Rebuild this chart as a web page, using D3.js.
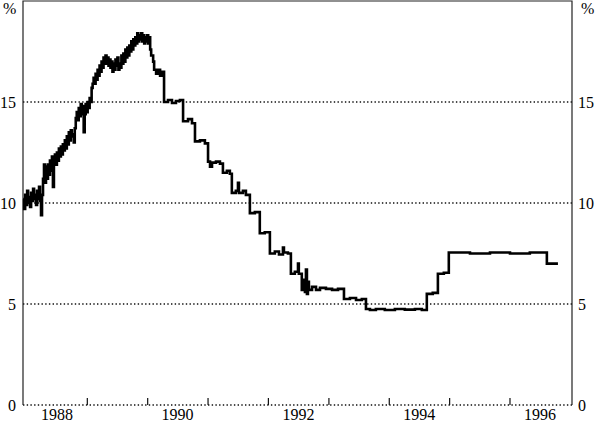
<!DOCTYPE html>
<html>
<head>
<meta charset="utf-8">
<script src="https://cdn.jsdelivr.net/npm/d3@7"></script>
<style>
  body { margin: 0; background: #fff; }
</style>
</head>
<body>
<svg id="chart"></svg>
<script>
const noisyStart = '1987-12-10';
const noisyStepDays = 6;
const noisyRates = [
    10.2, 9.7, 10.4, 9.9, 10.6, 10.0, 10.3, 9.8, 10.5, 10.1,
    10.7, 10.2, 10.4, 9.9, 10.6, 10.2, 10.8, 10.1, 9.4, 10.4,
    11.2, 11.9, 11.0, 11.8, 11.2, 11.9, 11.4, 12.1, 11.6, 12.3,
    10.8, 12.0, 12.4, 11.9, 12.5, 12.1, 12.7, 12.3, 12.8, 12.4,
    12.9, 12.6, 13.1, 12.7, 13.3, 12.9, 13.5, 13.1, 13.6, 13.3,
    13.4, 13.0, 13.7, 14.2, 14.5, 14.1, 14.7, 14.3, 14.9, 14.4,
    14.8, 13.5, 14.4, 14.9, 14.5, 15.0, 14.7, 15.2, 15.0, 15.7,
    15.9, 16.2, 15.9, 16.4, 16.1, 16.6, 16.3, 16.8, 16.5, 17.0,
    16.7, 17.2, 16.9, 17.3, 16.9, 17.2, 16.8, 17.1, 16.7, 17.0,
    16.5, 16.9, 16.6, 17.1, 16.8, 17.2, 16.6, 16.9, 16.7, 17.3,
    16.9, 17.4, 17.0, 17.6, 17.2, 17.7, 17.3, 17.8, 17.5, 18.0,
    17.6, 18.1, 17.8, 18.2, 17.9, 18.4, 18.0, 18.3, 18.1, 18.4,
    18.0, 18.3, 17.9, 18.2, 18.0, 18.3, 17.9, 18.2, 17.6, 17.3
];

// step period from 1990 on
const stepDates = [
    '1990-02-03', '1990-02-09', '1990-02-21', '1990-03-05', '1990-03-17', '1990-03-29',
    '1990-04-10', '1990-05-04', '1990-05-28', '1990-06-21', '1990-07-15',
    '1990-08-03', '1990-09-02', '1990-09-26',
    '1990-10-14', '1990-11-13', '1990-12-13',
    '1991-01-01', '1991-01-13', '1991-01-25', '1991-02-18', '1991-03-14',
    '1991-04-01', '1991-04-25', '1991-05-13',
    '1991-05-25', '1991-06-18', '1991-07-01', '1991-07-07', '1991-07-31', '1991-08-18',
    '1991-09-11', '1991-10-11',
    '1991-11-10', '1991-12-10',
    '1992-01-10', '1992-02-09', '1992-03-05', '1992-03-29', '1992-04-04', '1992-04-28',
    '1992-05-16', '1992-06-09', '1992-06-28', '1992-07-03',
    '1992-07-21', '1992-08-03', '1992-08-09', '1992-08-15', '1992-08-21', '1992-08-27',
    '1992-09-02', '1992-09-21', '1992-10-15', '1992-11-08', '1992-12-14', '1993-01-20', '1993-02-25',
    '1993-04-02', '1993-05-08', '1993-06-14', '1993-07-19',
    '1993-08-13', '1993-09-06', '1993-10-12', '1993-12-05', '1994-02-04', '1994-04-05',
    '1994-06-05', '1994-07-17',
    '1994-08-16', '1994-09-21',
    '1994-10-22', '1994-11-27',
    '1994-12-27', '1995-05-04', '1995-09-02', '1996-01-01', '1996-04-30',
    '1996-08-11', '1996-10-17'
];
const stepRates = [
    17.0, 16.6, 16.4, 16.6, 16.3, 16.5,
    15.0, 15.1, 14.95, 15.05, 15.1,
    14.05, 14.15, 13.95,
    13.05, 13.1, 12.95,
    12.05, 11.8, 12.0, 12.05, 11.95,
    11.5, 11.6, 11.45,
    10.5, 10.6, 11.0, 10.5, 10.6, 10.4,
    9.5, 9.55,
    8.5, 8.55,
    7.5, 7.6, 7.45, 7.8, 7.55, 7.5,
    6.5, 6.6, 7.0, 6.5,
    5.7, 6.2, 5.6, 6.7, 5.5, 6.1,
    5.7, 5.85, 5.7, 5.8, 5.75, 5.7, 5.75,
    5.25, 5.3, 5.2, 5.25,
    4.75, 4.7, 4.75, 4.7, 4.75, 4.72,
    4.75, 4.7,
    5.5, 5.55,
    6.5, 6.55,
    7.55, 7.5, 7.55, 7.5, 7.55,
    7.0, 7.0
];

const yTickValues = [0, 5, 10, 15];
const tickYears = [1989, 1990, 1991, 1992, 1993, 1994, 1995, 1996];
const labelYears = [1988, 1990, 1992, 1994, 1996];

class CashRateVis {
    constructor(_config, _data) {
        this.config = {
            parentElement: _config.parentElement,
            containerWidth: 600,
            containerHeight: 422,
            font: "'Liberation Serif', 'Times New Roman', Times, serif",
            margin: { top: 1, right: 28, bottom: 17, left: 23 }
        };
        this.data = _data;
        this.initVis();
    }

    initVis() {
        let vis = this;
        const m = vis.config.margin;
        vis.width = vis.config.containerWidth - m.left - m.right;
        vis.height = vis.config.containerHeight - m.top - m.bottom;

        vis.xScale = d3.scaleTime()
            .domain([new Date(1987, 11, 9), new Date(1997, 0, 10)])
            .range([0, vis.width]);

        vis.yScale = d3.scaleLinear()
            .domain([0, 20])
            .range([vis.height, 0]);

        vis.svg = d3.select(vis.config.parentElement)
            .attr('width', vis.config.containerWidth)
            .attr('height', vis.config.containerHeight)
            .attr('font-family', vis.config.font)
            .attr('font-size', 16);

        vis.chart = vis.svg.append('g')
            .attr('transform', `translate(${m.left}, ${m.top})`);

        vis.renderVis();
    }

    renderVis() {
        let vis = this;

        // dotted gridlines (the 0 one doubles as the base line)
        vis.chart.selectAll('.grid')
            .data(yTickValues)
            .join('line')
            .attr('class', 'grid')
            .attr('x1', 0)
            .attr('x2', vis.width)
            .attr('y1', d => vis.yScale(d))
            .attr('y2', d => vis.yScale(d))
            .attr('stroke', '#111')
            .attr('stroke-width', 1.4)
            .attr('stroke-dasharray', '1.4,2.3');

        // year ticks pointing up from the base
        vis.chart.selectAll('.xtick')
            .data(tickYears)
            .join('line')
            .attr('class', 'xtick')
            .attr('x1', d => vis.xScale(new Date(d, 0, 1)))
            .attr('x2', d => vis.xScale(new Date(d, 0, 1)))
            .attr('y1', vis.height)
            .attr('y2', vis.height - 7)
            .attr('stroke', '#111')
            .attr('stroke-width', 1.2);

        // frame: left, top, right
        vis.chart.append('path')
            .attr('d', `M0,${vis.height}V0H${vis.width}V${vis.height}`)
            .attr('fill', 'none')
            .attr('stroke', '#222')
            .attr('stroke-width', 1.2);

        const line = d3.line()
            .x(d => vis.xScale(d.date))
            .y(d => vis.yScale(d.rate))
            .curve(d3.curveStepAfter);

        vis.chart.append('path')
            .datum(vis.data)
            .attr('d', line)
            .attr('fill', 'none')
            .attr('stroke', '#000')
            .attr('stroke-width', 2.6);

        // y labels on both sides
        vis.chart.selectAll('.ylab-left')
            .data(yTickValues)
            .join('text')
            .attr('class', 'ylab-left')
            .attr('x', -7)
            .attr('y', d => vis.yScale(d))
            .attr('dy', '0.35em')
            .attr('text-anchor', 'end')
            .text(d => d);

        vis.chart.selectAll('.ylab-right')
            .data(yTickValues)
            .join('text')
            .attr('class', 'ylab-right')
            .attr('x', vis.width + 6)
            .attr('y', d => vis.yScale(d))
            .attr('dy', '0.35em')
            .attr('text-anchor', 'start')
            .text(d => d);

        vis.chart.append('text')
            .attr('x', -20)
            .attr('y', 13)
            .text('%');
        vis.chart.append('text')
            .attr('x', vis.width + 9)
            .attr('y', 13)
            .text('%');

        vis.chart.selectAll('.xlab')
            .data(labelYears)
            .join('text')
            .attr('class', 'xlab')
            .attr('x', d => vis.xScale(new Date(d, 6, 1)))
            .attr('y', vis.height + 15)
            .attr('text-anchor', 'middle')
            .text(d => d);
    }
}

const parse = d3.timeParse('%Y-%m-%d');
const start = parse(noisyStart);
let series = noisyRates.map((r, i) => ({ date: d3.timeDay.offset(start, i * noisyStepDays), rate: r }));
series = series.concat(stepDates.map((d, i) => ({ date: parse(d), rate: stepRates[i] })));

new CashRateVis({ parentElement: '#chart' }, series);
</script>
</body>
</html>
